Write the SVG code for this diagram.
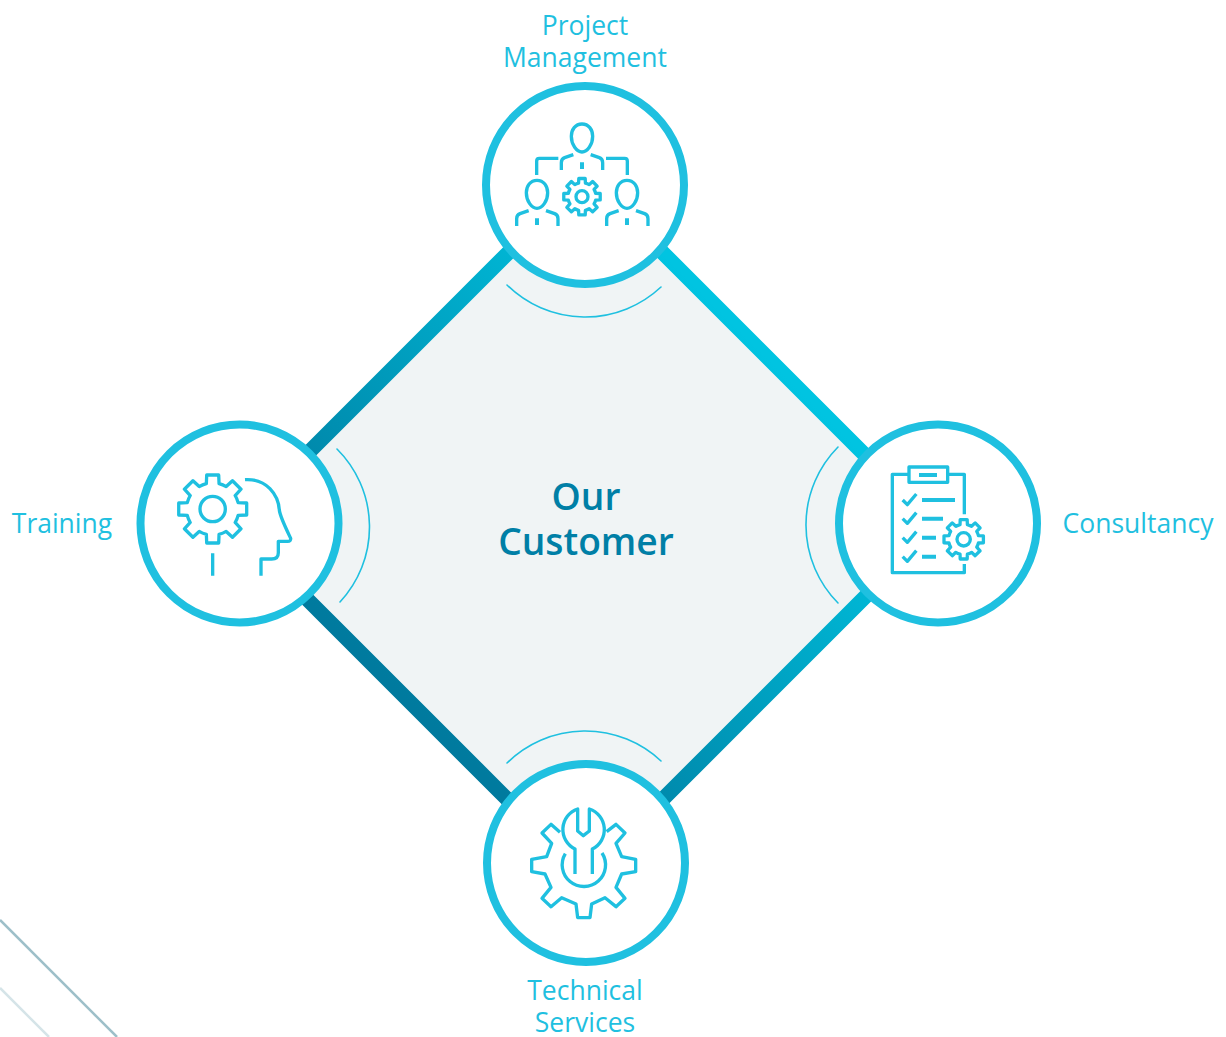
<svg xmlns="http://www.w3.org/2000/svg" xmlns:xlink="http://www.w3.org/1999/xlink" width="1226" height="1037" viewBox="0 0 1226 1037">
<style>
.ring{fill:#fff;stroke:#1fc0e0;stroke-width:8}
.arc{fill:none;stroke:#1fc0e0;stroke-width:1.6;stroke-linecap:round}
.ic{fill:none;stroke:#1fc0e0;stroke-width:10;stroke-linejoin:round}
.fine{fill:none;stroke:#1fc0e0;stroke-width:3.3;stroke-linejoin:round;vector-effect:non-scaling-stroke}
.lb{font-family:"Open Sans","Noto Sans",sans-serif;font-size:26.5px;fill:#1fc0e0;text-anchor:middle}
.ti{font-family:"Open Sans","Noto Sans",sans-serif;font-size:37.2px;font-weight:600;fill:#007fa6;text-anchor:middle}
</style>
<defs>
<linearGradient id="band" gradientUnits="userSpaceOnUse" x1="234.5" y1="526.5" x2="585.5" y2="175.5">
<stop offset="0" stop-color="#007a9e"/><stop offset="1" stop-color="#00c4e1"/>
</linearGradient>
<path id="gear" class="fine" d="M73.7-18.4L98.5-17.4V17.4L73.7 18.4A76 76 0 0 1 65.1 39.1L82 57.3L57.3 82L39.1 65.1A76 76 0 0 1 18.4 73.7L17.4 98.5H-17.4L-18.4 73.7A76 76 0 0 1-39.1 65.1L-57.3 82L-82 57.3L-65.1 39.1A76 76 0 0 1-73.7 18.4L-98.5 17.4V-17.4L-73.7-18.4A76 76 0 0 1-65.1-39.1L-82-57.3L-57.3-82L-39.1-65.1A76 76 0 0 1-18.4-73.7L-17.4-98.5H17.4L18.4-73.7A76 76 0 0 1 39.1-65.1L57.3-82L82-57.3L65.1-39.1A76 76 0 0 1 73.7-18.4Z"/>
<path id="head" d="M0-42C-20-42-32-25-32-5C-32 20-16 42 0 42C16 42 32 20 32-5C32-25 20-42 0-42Z"/>
</defs>
<g id="background" fill="none">
<path d="M0 920L117 1037" stroke="#9dbfc9" stroke-width="2.5"/>
<path d="M0 988L49 1037" stroke="#d5e4e8" stroke-width="2.5"/>
</g>
<g id="connectors">
<path d="M585.5 175.5L936 526L585 877L234.5 526.5Z" fill="#f0f4f5" stroke="url(#band)" stroke-width="15" stroke-linejoin="miter"/>
<path class="arc" d="M507 285A111 111 0 0 0 661 287"/>
<path class="arc" d="M337 449A110 110 0 0 1 340 602"/>
<path class="arc" d="M838 447A111 111 0 0 0 838 603"/>
<path class="arc" d="M507 763A111 111 0 0 1 661 761"/>
</g>
<g id="center"><text class="ti" x="586" y="510">Our</text><text class="ti" x="586" y="555">Customer</text></g>
<g id="node-project-management">
<circle class="ring" cx="585" cy="185" r="99"/>
<g transform="translate(480,80) scale(.33333)" class="ic">
<use xlink:href="#head" href="#head" transform="translate(306,174)"/>
<use xlink:href="#head" href="#head" transform="translate(171,343)"/>
<use xlink:href="#head" href="#head" transform="translate(441,343)"/>
<path d="M244 270V248Q244 237 254 233L280 224M368 270V248Q368 237 358 233L332 224M170 285V243Q170 235 178 235H235M442 285V243Q442 235 434 235H378"/>
<path d="M110 438V416Q110 405 120 401L146 392M234 438V416Q234 405 224 401L198 392M380 438V416Q380 405 390 401L416 392M504 438V416Q504 405 494 401L468 392"/>
<path stroke-width="12" d="M306 247V267M171 415V435M441 415V435"/>
<circle cx="306" cy="350" r="18"/>
</g>
<use xlink:href="#gear" href="#gear" transform="translate(582,196.7) scale(.185)"/>
<text class="lb" x="585" y="35">Project</text><text class="lb" x="585" y="67">Management</text>
</g>
<g id="node-training">
<circle class="ring" cx="239.500" cy="523.500" r="99"/>
<g transform="translate(135,420) scale(.33333)" class="ic">
<path d="M330 179C395 175 430 225 433 270C435 290 460 340 467 355Q468 364 458 364H430V398Q430 417 410 417H378V467M233 400V467"/>
<circle cx="233" cy="267" r="38"/>
</g>
<use xlink:href="#gear" href="#gear" transform="translate(212.700,509) scale(.345)"/>
<text class="lb" x="62" y="533">Training</text>
</g>
<g id="node-consultancy">
<circle class="ring" cx="938" cy="523.500" r="99"/>
<g transform="translate(800,420) scale(.33333)" class="ic">
<path d="M325 163H277V458H493V432M445 163H493V283"/>
<rect x="327" y="141" width="116" height="46"/>
<path stroke-width="12" d="M357 165H411M366 240H465M366 296H429M366 353H408M366 410H408"/>
<path stroke-width="10" d="M308 240L322 254L349 222M308 296L322 310L349 278M308 353L322 367L349 335M308 410L322 424L349 392"/>
<circle cx="491" cy="358" r="20"/>
</g>
<use xlink:href="#gear" href="#gear" transform="translate(963.700,539.300) scale(.2)"/>
<text class="lb" x="1138" y="533">Consultancy</text>
</g>
<g id="node-technical-services">
<circle class="ring" cx="586" cy="863" r="99"/>
<g transform="translate(480,725) scale(.33333)" class="ic">
<path d="M240 322L213 298L186 324L215 355L200 395L155 403V440L195 447L213 487L186 520L213 545L245 518L288 537L293 578H330L335 537L375 518L408 545L435 520L408 487L425 447L467 440V403L425 395L408 355L435 324L408 298L380 320"/>
<path d="M285 447V372A65 65 0 0 1 293 252V318L310 332L328 318V252A65 65 0 0 1 337 372V447"/>
<path d="M256 386A65 65 0 1 0 366 384"/>
</g>
<text class="lb" x="585" y="1000">Technical</text><text class="lb" x="585" y="1032">Services</text>
</g>
</svg>
